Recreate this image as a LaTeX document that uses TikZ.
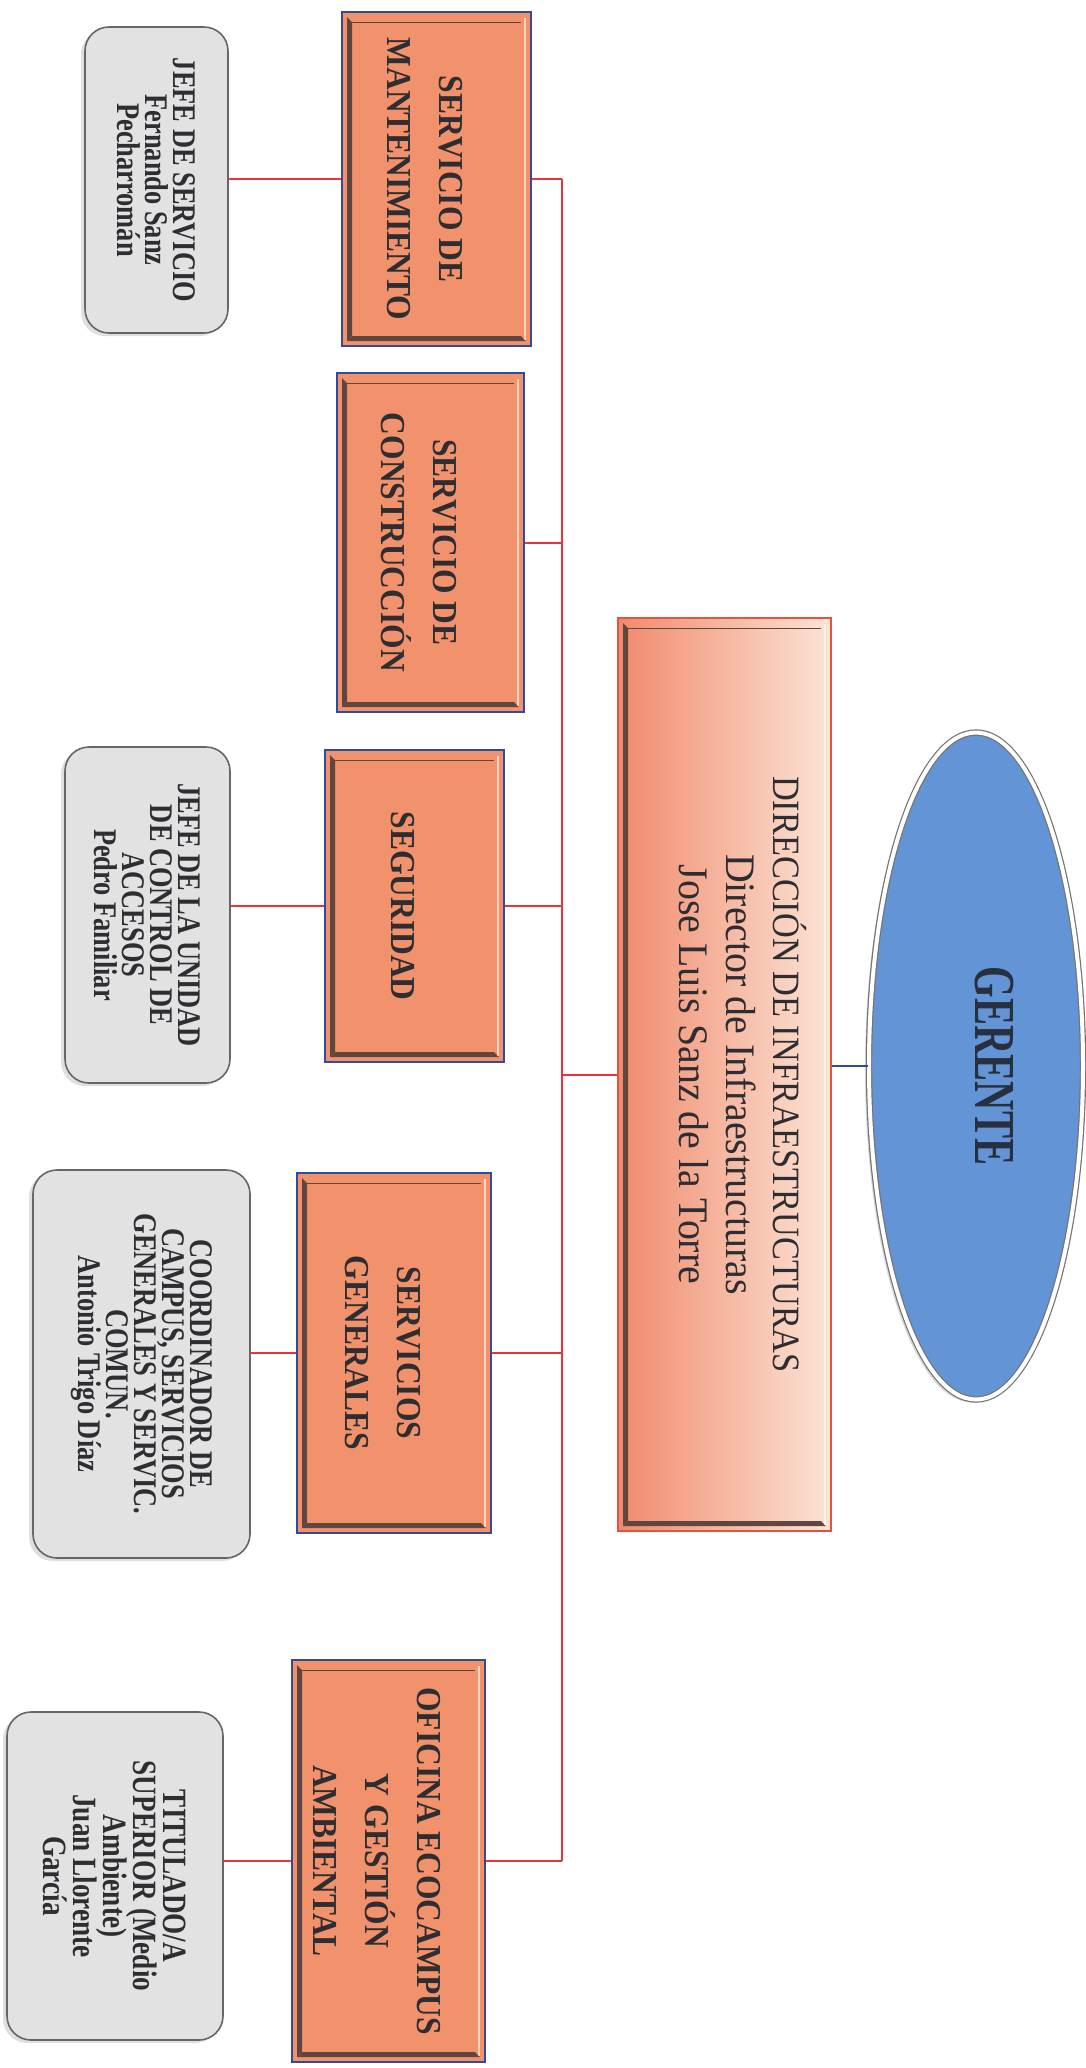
\documentclass[tikz,border=0pt]{standalone}
\usepackage{fontspec}
\setmainfont{Liberation Serif}
\newfontfamily\gerfont[FakeStretch=0.7]{Liberation Serif}
\newfontfamily\dirfont[FakeStretch=0.95]{Liberation Serif}
\newfontfamily\servfont[FakeStretch=0.9]{Liberation Serif}
\newfontfamily\perfont[FakeStretch=0.8]{Liberation Serif}
\usetikzlibrary{shapes.geometric,shadows}

\definecolor{servfill}{RGB}{241,146,108}
\definecolor{servedge}{RGB}{50,75,150}
\definecolor{dirleft}{RGB}{240,138,108}
\definecolor{dirright}{RGB}{252,228,214}
\definecolor{diredge}{RGB}{226,84,64}
\definecolor{gerfill}{RGB}{98,148,214}
\definecolor{gertext}{RGB}{40,48,64}
\definecolor{perfill}{RGB}{226,226,226}
\definecolor{linered}{RGB}{232,50,60}
\definecolor{lineblue}{RGB}{45,75,150}
\definecolor{textgray}{RGB}{45,45,50}
\definecolor{bevdark}{RGB}{96,70,62}

% rotated text block: [page shift]{width}{lines}
\newcommand{\vtext}[3][0pt]{\hspace*{#1}\rotatebox{-90}{\parbox{#2}{\centering\lineskiplimit=-20pt\relax #3}}\hspace*{-#1}}

% bevel inside the orange boxes
\newcommand{\bevelstrips}{%
  \coordinate (bv-sw) at (path picture bounding box.south west);
  \coordinate (bv-nw) at (path picture bounding box.north west);
  \coordinate (bv-se) at (path picture bounding box.south east);
  \coordinate (bv-ne) at (path picture bounding box.north east);
  \fill[bevdark] ([shift={(2.5pt,2.5pt)}]bv-sw) -- ([shift={(2.5pt,-2.5pt)}]bv-nw)
    -- ([shift={(5pt,-5pt)}]bv-nw) -- ([shift={(5pt,5pt)}]bv-sw) -- cycle;
  \fill[bevdark] ([shift={(2.5pt,2.5pt)}]bv-sw) -- ([shift={(-2.5pt,2.5pt)}]bv-se)
    -- ([shift={(-5pt,5pt)}]bv-se) -- ([shift={(5pt,5pt)}]bv-sw) -- cycle;
  \draw[bevdark, line width=0.5pt] ([shift={(5pt,-5pt)}]bv-nw) -- ([shift={(-5pt,-5pt)}]bv-ne);
  \draw[white, opacity=0.6, line width=1.2pt] ([shift={(-3pt,-3pt)}]bv-ne) -- ([shift={(-3pt,3pt)}]bv-se);
}

\tikzset{
  gerbox/.style={ellipse, minimum width=107pt, minimum height=333.5pt, fill=gerfill,
    draw=black!55, double=white, double distance=2pt, line width=0.6pt,
    drop shadow={shadow xshift=-2pt, shadow yshift=-1.5pt, opacity=0.3},
    text=gertext, font=\gerfont\bfseries\fontsize{29}{30}\selectfont},
  dirbox/.style={rectangle, minimum width=106.5pt, minimum height=456.5pt,
    left color=dirleft, right color=dirright, draw=diredge, line width=0.8pt,
    text=textgray, font=\dirfont\fontsize{21}{23.5}\selectfont, path picture={\bevelstrips}},
  servbox/.style={rectangle, fill=servfill, draw=servedge, line width=0.8pt,
    text=textgray, font=\servfont\bfseries\fontsize{17.5}{26}\selectfont, path picture={\bevelstrips}},
  perbox/.style={rectangle, rounded corners=12pt, fill=perfill, draw=black!60, line width=0.8pt,
    drop shadow={shadow xshift=-2pt, shadow yshift=-1.5pt, opacity=0.25},
    text=textgray, font=\perfont\bfseries\fontsize{16.5}{14}\selectfont},
  redline/.style={draw=linered, line width=1pt},
  blueline/.style={draw=lineblue, line width=1pt},
}

\begin{document}
\begin{tikzpicture}[x=0.5pt, y=-0.5pt]
    \useasboundingbox (0,0) rectangle (1086,2068);

    % Gerente
    \node[gerbox] (gerente) at (976,1066) {\vtext[9pt]{120pt}{GERENTE}};

    % Direccion
    \node[dirbox] (direccion) at (724.5,1074.5)
        {\vtext[9pt]{430pt}{\scalebox{0.86}[0.92]{DIRECCIÓN DE INFRAESTRUCTURAS}\\Director de Infraestructuras\\Jose Luis Sanz de la Torre}};

    % Servicios
    \node[servbox, minimum width=94.5pt, minimum height=167pt] (mant) at (436.5,179)
        {\vtext[-5.75pt]{150pt}{SERVICIO DE\\MANTENIMIENTO}};
    \node[servbox, minimum width=93.5pt, minimum height=169.5pt] (constr) at (430.5,542.5)
        {\vtext[-5.75pt]{150pt}{SERVICIO DE\\CONSTRUCCIÓN}};
    \node[servbox, minimum width=89.5pt, minimum height=156pt] (segur) at (414.5,906)
        {\vtext[-5.75pt]{140pt}{SEGURIDAD}};
    \node[servbox, minimum width=97pt, minimum height=180pt] (sgen) at (394,1353)
        {\vtext[-5.75pt]{160pt}{SERVICIOS\\GENERALES}};
    \node[servbox, minimum width=96.5pt, minimum height=201pt] (ecoc) at (388.5,1861)
        {\vtext[-5.75pt]{190pt}{OFICINA ECOCAMPUS\\Y GESTIÓN\\AMBIENTAL}};

    % Responsables
    \node[perbox, minimum width=71.5pt, minimum height=153pt] (jefemant) at (156.5,180)
        {\vtext{140pt}{JEFE DE SERVICIO\\Fernando Sanz\\Pecharromán}};
    \node[perbox, minimum width=82.5pt, minimum height=168pt] (jefesegur) at (147.5,915)
        {\vtext{150pt}{JEFE DE LA UNIDAD\\DE CONTROL DE\\ACCESOS\\Pedro Familiar}};
    \node[perbox, minimum width=108.5pt, minimum height=194pt] (coordsgen) at (141.5,1364)
        {\vtext{180pt}{COORDINADOR DE\\CAMPUS, SERVICIOS\\GENERALES Y SERVIC.\\COMUN.\\Antonio Trigo Díaz}};
    \node[perbox, minimum width=108pt, minimum height=164pt, font=\perfont\bfseries\fontsize{17}{15}\selectfont] (titecoc) at (115,1876)
        {\vtext{150pt}{TITULADO/A\\SUPERIOR (Medio\\Ambiente)\\Juan Llorente\\García}};

    % Lineas
    \coordinate (spine) at (562,0);
    \draw[blueline] (gerente.west -| direccion.east) -- (gerente.west);
    \draw[redline] (direccion.west) -- (direccion.west -| spine);
    \draw[redline] (mant.east -| spine) -- (ecoc.east -| spine);
    \foreach \s in {mant,constr,segur,sgen,ecoc}
        \draw[redline] (\s.east) -- (\s.east -| spine);
    \foreach \p/\s in {jefemant/mant,jefesegur/segur,coordsgen/sgen,titecoc/ecoc}
        \draw[redline] (\s.west) -- (\s.west -| \p.east);
\end{tikzpicture}
\end{document}
